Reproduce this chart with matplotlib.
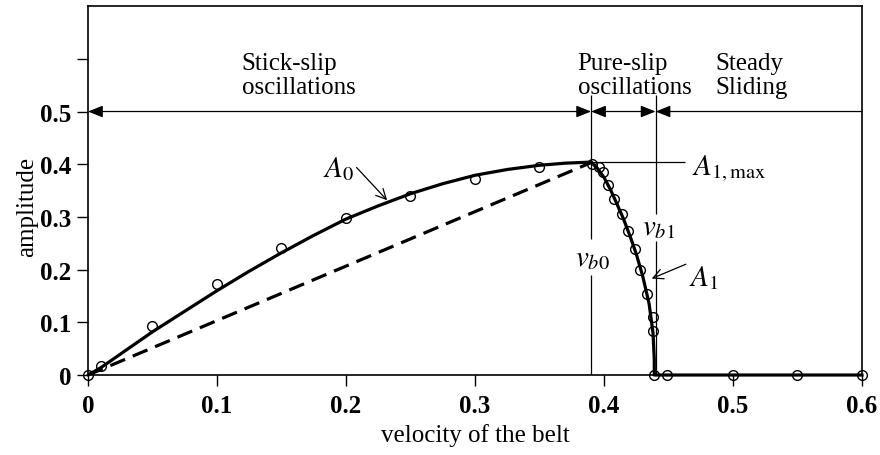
import numpy as np
import matplotlib
matplotlib.use('Agg')
import matplotlib.pyplot as plt
from matplotlib.ticker import FixedLocator, FixedFormatter

plt.rcParams['font.family'] = ['Liberation Serif', 'DejaVu Serif']
plt.rcParams['mathtext.fontset'] = 'stix'

# measured points (open circles)
exp_v = [0, 0.01, 0.05, 0.1, 0.15, 0.2, 0.25, 0.3, 0.35, 0.391, 0.396, 0.399, 0.403,
         0.408, 0.414, 0.419, 0.424, 0.428, 0.433, 0.438, 0.438, 0.439, 0.449, 0.5, 0.55, 0.6]
exp_a = [0, 0.018, 0.093, 0.173, 0.241, 0.297, 0.339, 0.371, 0.394, 0.401, 0.395, 0.385, 0.361,
         0.334, 0.306, 0.274, 0.24, 0.2, 0.153, 0.111, 0.084, 0, 0, 0, 0, 0]

# A0 branch (stick-slip), solid
a0_v = [0, 0.01, 0.05, 0.1, 0.125, 0.15, 0.175, 0.2, 0.225, 0.25, 0.275, 0.3, 0.325, 0.35, 0.37, 0.39]
a0_a = [0, 0.014, 0.082, 0.16, 0.197, 0.232, 0.265, 0.296, 0.321, 0.344, 0.363, 0.379, 0.390, 0.398, 0.402, 0.404]

# A1 branch (pure-slip) then steady sliding
a1_v = [0.39, 0.395, 0.4, 0.405, 0.41, 0.415, 0.42, 0.425, 0.43, 0.435, 0.438, 0.439, 0.439, 0.6]
a1_a = [0.404, 0.392, 0.375, 0.352, 0.325, 0.297, 0.265, 0.23, 0.188, 0.135, 0.08, 0.03, 0, 0]

# dashed straight line
dash_v = [0, 0.39]
dash_a = [0, 0.403]

vb0 = 0.39
vb1 = 0.44
a1max = 0.405

xticks = [0, 0.1, 0.2, 0.3, 0.4, 0.5, 0.6]
xlabels = ['0', '0.1', '0.2', '0.3', '0.4', '0.5', '0.6']
yticks = [0, 0.1, 0.2, 0.3, 0.4, 0.5, 0.6]
ylabels = ['0', '0.1', '0.2', '0.3', '0.4', '0.5', '']

fig = plt.figure(figsize=(8.8, 4.56), dpi=100)
ax = fig.add_axes([0.1, 0.1754, 0.8795, 0.809])

ax.plot(a0_v, a0_a, color='black', lw=2.3, solid_capstyle='round', clip_on=False)
ax.plot(a1_v, a1_a, color='black', lw=2.3, clip_on=False)
ax.plot(dash_v, dash_a, color='black', lw=2.3, linestyle=(0, (5, 2.6)))
ax.plot(exp_v, exp_a, 'o', ms=7, mfc='none', mec='black', mew=1.0, clip_on=False, zorder=5)

# vertical boundaries with gaps for labels
ax.vlines(vb0, 0, 0.19, color='black', lw=0.9)
ax.vlines(vb0, 0.259, 0.531, color='black', lw=0.9)
ax.vlines(vb1, 0, 0.255, color='black', lw=0.9)
ax.vlines(vb1, 0.306, 0.531, color='black', lw=0.9)
ax.text(vb0 + 0.001, 0.222, r'$v_{b0}$', fontsize=21, ha='center', va='center')
ax.text(vb1 + 0.002, 0.281, r'$v_{b1}$', fontsize=21, ha='center', va='center')

# A1,max marker line
ax.hlines(a1max, vb0, 0.463, color='black', lw=0.9)
ax.text(0.468, 0.394, r'$A_{1,\mathrm{max}}$', fontsize=21, ha='left', va='center')

# regime arrows at 0.5
ap = dict(color='black', lw=0.9, shrinkA=0, shrinkB=0, mutation_scale=20)
ax.annotate('', xy=(vb0, 0.5), xytext=(0, 0.5), annotation_clip=False,
            arrowprops=dict(arrowstyle='<|-|>,head_length=0.45,head_width=0.18', **ap))
ax.annotate('', xy=(vb1, 0.5), xytext=(vb0, 0.5), annotation_clip=False,
            arrowprops=dict(arrowstyle='<|-|>,head_length=0.45,head_width=0.18', **ap))
ax.annotate('', xy=(vb1, 0.5), xytext=(0.6, 0.5), annotation_clip=False,
            arrowprops=dict(arrowstyle='-|>,head_length=0.45,head_width=0.18', **ap))

ax.text(0.119, 0.536, 'Stick-slip\noscillations', fontsize=18, ha='left', va='baseline', linespacing=1.1)
ax.text(0.3795, 0.536, 'Pure-slip\noscillations', fontsize=18, ha='left', va='baseline', linespacing=1.1)
ax.text(0.486, 0.536, 'Steady\nSliding', fontsize=18, ha='left', va='baseline', linespacing=1.1)

# curve labels
ax.annotate(r'$A_0$', xy=(0.2319, 0.3316), xytext=(0.194, 0.392), fontsize=21,
            ha='center', va='center',
            arrowprops=dict(arrowstyle='->', color='black', lw=0.9, shrinkA=0, shrinkB=0,
                            mutation_scale=18, relpos=(0.7, 1.0)))
ax.annotate(r'$A_1$', xy=(0.437, 0.183), xytext=(0.477, 0.186), fontsize=21,
            ha='center', va='center',
            arrowprops=dict(arrowstyle='->', color='black', lw=0.9, shrinkA=0, shrinkB=0,
                            mutation_scale=18, relpos=(0.0, 1.0)))

ax.set_xlim(0, 0.6)
ax.set_ylim(0, 0.7)
ax.xaxis.set_major_locator(FixedLocator(xticks))
ax.xaxis.set_major_formatter(FixedFormatter(xlabels))
ax.yaxis.set_major_locator(FixedLocator(yticks))
ax.yaxis.set_major_formatter(FixedFormatter(ylabels))
ax.tick_params(axis='both', direction='out', length=8, width=1.0, labelsize=18)
ax.tick_params(axis='x', pad=6)
ax.tick_params(axis='y', pad=4)
for lab in ax.get_xticklabels() + ax.get_yticklabels():
    lab.set_fontweight('bold')
for s in ax.spines.values():
    s.set_linewidth(1.2)

ax.set_xlabel('velocity of the belt', fontsize=18, labelpad=4)
ax.set_ylabel('amplitude', fontsize=18, labelpad=6)
ax.yaxis.set_label_coords(-0.065, 0.458)

fig.savefig('out.png', dpi=100)
